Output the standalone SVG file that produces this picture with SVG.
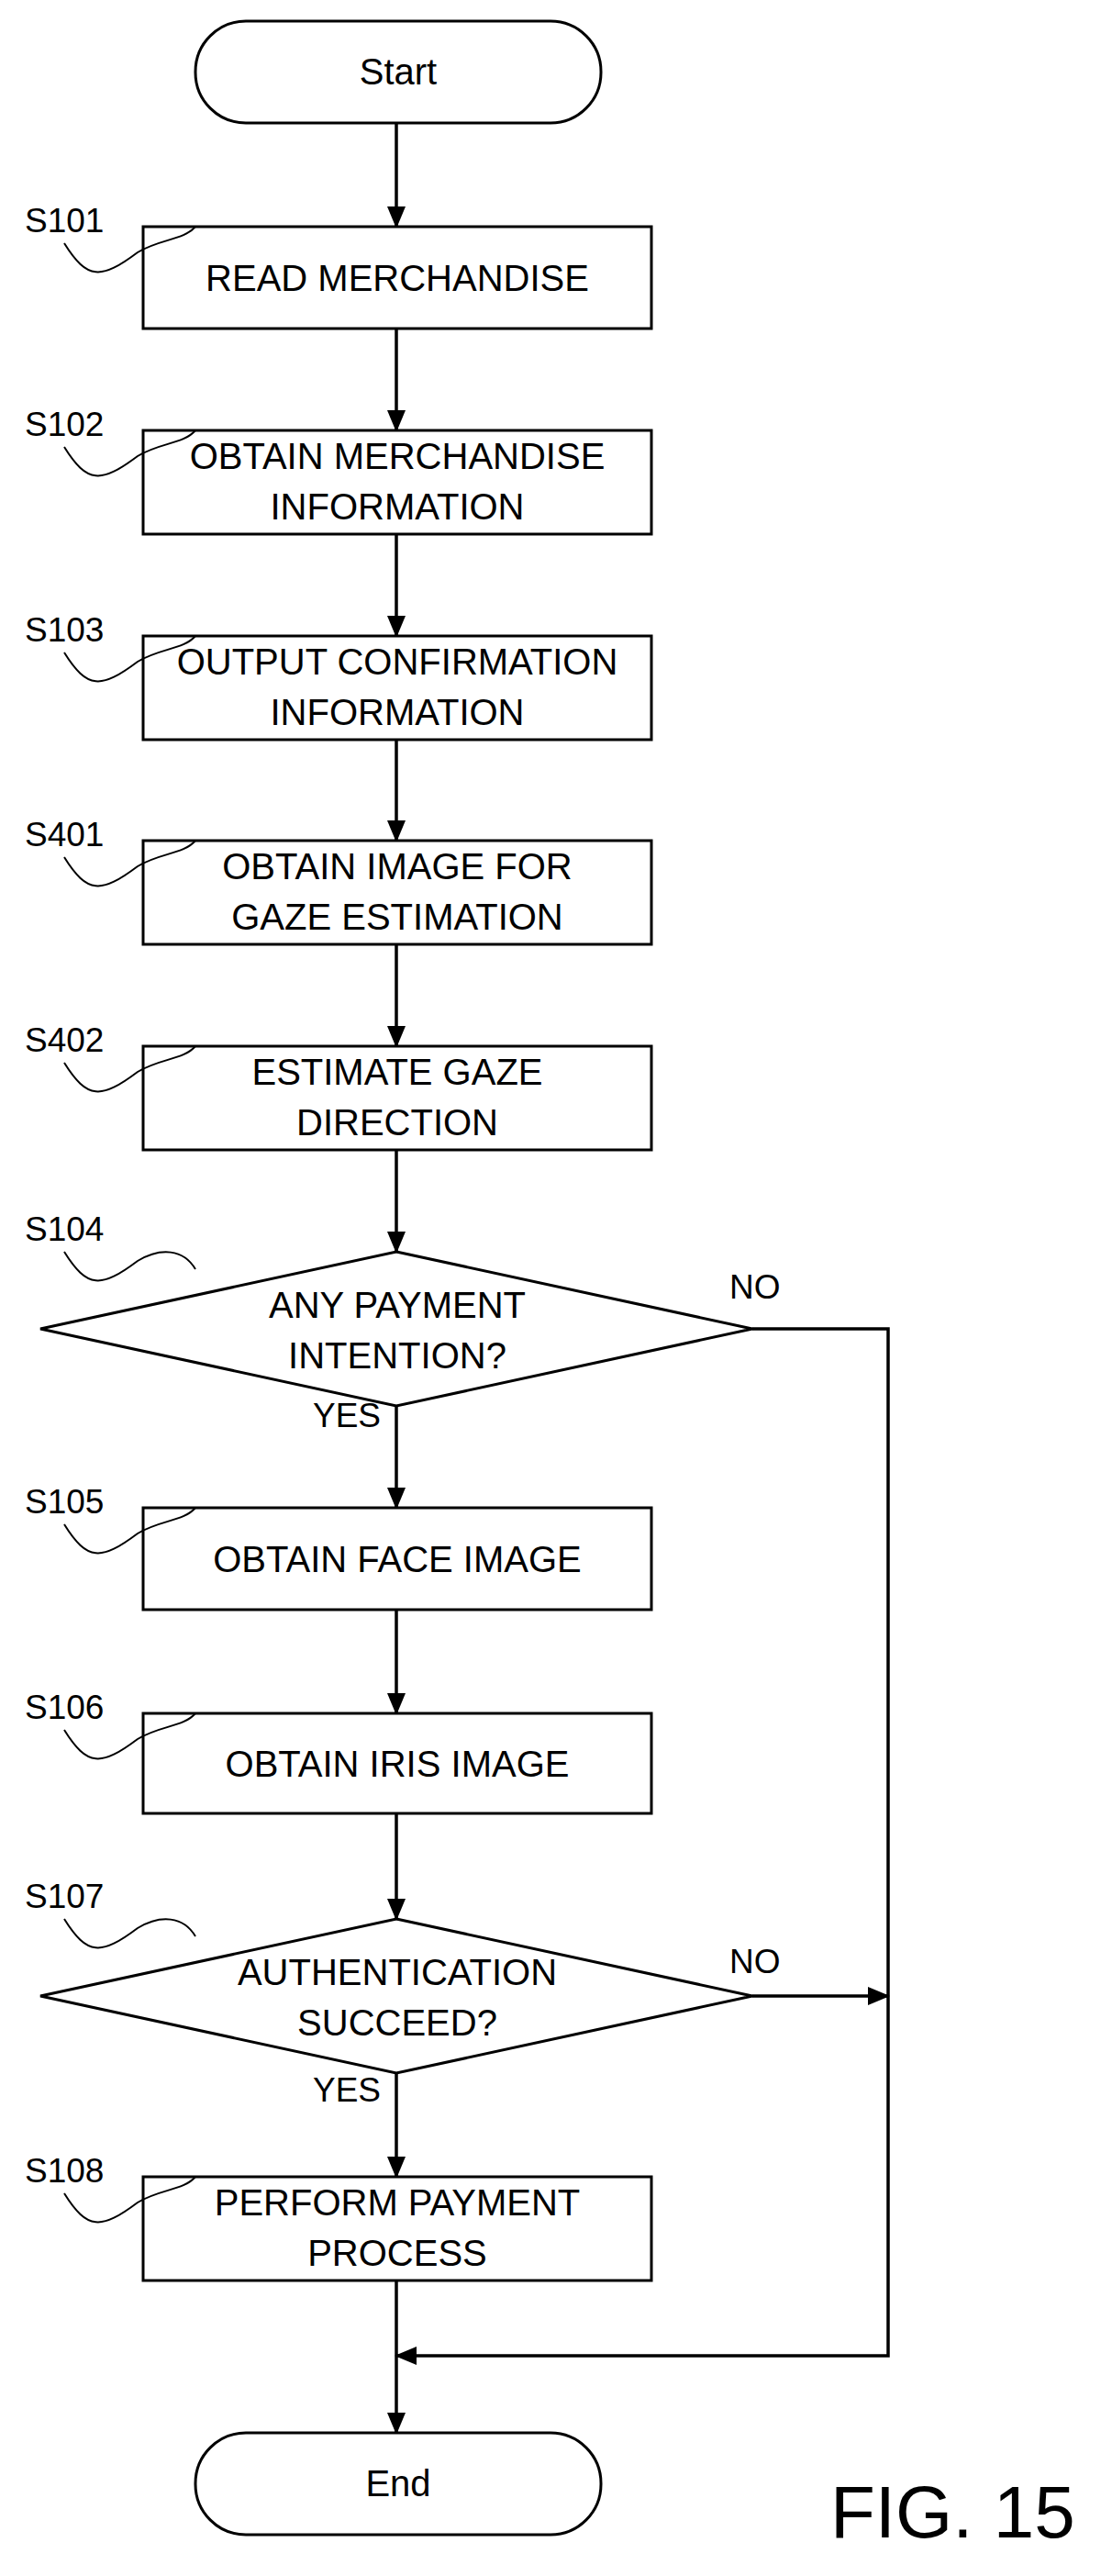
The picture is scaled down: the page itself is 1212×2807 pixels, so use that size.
<svg xmlns="http://www.w3.org/2000/svg" width="1212" height="2807" viewBox="0 0 1212 2807">
<style>
.s{fill:#fff;stroke:#000;stroke-width:3}
.t{font-family:"Liberation Sans",Arial,sans-serif;font-size:40px;text-anchor:middle;fill:#000}
.l{font-family:"Liberation Sans",Arial,sans-serif;font-size:37px;fill:#000}
.c{fill:none;stroke:#000;stroke-width:3.5}
.w{fill:none;stroke:#000;stroke-width:2}
</style>
<defs>
<marker id="b" markerWidth="24" markerHeight="24" refX="22" refY="12" orient="auto" markerUnits="userSpaceOnUse" viewBox="0 0 24 24"><path d="M0,2L24,12L0,22z" fill="#000"/></marker></defs>
<g id="connectors">
<path class="c" d="M432,134V247" marker-end="url(#b)"/>
<path class="c" d="M432,358V469" marker-end="url(#b)"/>
<path class="c" d="M432,582V693" marker-end="url(#b)"/>
<path class="c" d="M432,806V916" marker-end="url(#b)"/>
<path class="c" d="M432,1029V1140" marker-end="url(#b)"/>
<path class="c" d="M432,1253V1364" marker-end="url(#b)"/>
<path class="c" d="M432,1532V1643" marker-end="url(#b)"/>
<path class="c" d="M432,1754V1867" marker-end="url(#b)"/>
<path class="c" d="M432,1976V2091" marker-end="url(#b)"/>
<path class="c" d="M432,2259V2372" marker-end="url(#b)"/>
<path class="c" d="M432,2485V2651" marker-end="url(#b)"/>
<path class="c" d="M820,1448H968V2567H432" marker-end="url(#b)"/>
<path class="c" d="M820,2175H968" marker-end="url(#b)"/>
</g>
<g id="start"><rect class="s" x="213" y="23" width="442" height="111" rx="55"/><text class="t" x="434" y="92">Start</text></g>
<g id="S101"><rect class="s" x="156" y="247" width="554" height="111"/><text class="t" x="433" y="317">READ MERCHANDISE</text><text class="l" x="27" y="253">S101</text><path class="w" d="M70,265C95,305 110,305 150,275C175,260 200,262 213,247"/></g>
<g id="S102"><rect class="s" x="156" y="469" width="554" height="113"/><text class="t" x="433" y="511">OBTAIN MERCHANDISE</text><text class="t" x="433" y="566">INFORMATION</text><text class="l" x="27" y="475">S102</text><path class="w" d="M70,487C95,527 110,527 150,497C175,482 200,484 213,469"/></g>
<g id="S103"><rect class="s" x="156" y="693" width="554" height="113"/><text class="t" x="433" y="735">OUTPUT CONFIRMATION</text><text class="t" x="433" y="790">INFORMATION</text><text class="l" x="27" y="699">S103</text><path class="w" d="M70,711C95,751 110,751 150,721C175,706 200,708 213,693"/></g>
<g id="S401"><rect class="s" x="156" y="916" width="554" height="113"/><text class="t" x="433" y="958">OBTAIN IMAGE FOR</text><text class="t" x="433" y="1013">GAZE ESTIMATION</text><text class="l" x="27" y="922">S401</text><path class="w" d="M70,934C95,974 110,974 150,944C175,929 200,931 213,916"/></g>
<g id="S402"><rect class="s" x="156" y="1140" width="554" height="113"/><text class="t" x="433" y="1182">ESTIMATE GAZE</text><text class="t" x="433" y="1237">DIRECTION</text><text class="l" x="27" y="1146">S402</text><path class="w" d="M70,1158C95,1198 110,1198 150,1168C175,1153 200,1155 213,1140"/></g>
<g id="S104"><path class="s" d="M432,1364L820,1448L432,1532L44,1448z"/><text class="t" x="433" y="1436">ANY PAYMENT</text><text class="t" x="433" y="1491">INTENTION?</text><text class="l" x="27" y="1352">S104</text><path class="w" d="M70,1364C95,1404 110,1404 150,1374C175,1359 200,1361 213,1383"/><text class="l" x="795" y="1415">NO</text><text class="l" x="341" y="1555">YES</text></g>
<g id="S105"><rect class="s" x="156" y="1643" width="554" height="111"/><text class="t" x="433" y="1713">OBTAIN FACE IMAGE</text><text class="l" x="27" y="1649">S105</text><path class="w" d="M70,1661C95,1701 110,1701 150,1671C175,1656 200,1658 213,1643"/></g>
<g id="S106"><rect class="s" x="156" y="1867" width="554" height="109"/><text class="t" x="433" y="1936">OBTAIN IRIS IMAGE</text><text class="l" x="27" y="1873">S106</text><path class="w" d="M70,1885C95,1925 110,1925 150,1895C175,1880 200,1882 213,1867"/></g>
<g id="S107"><path class="s" d="M432,2091L820,2175L432,2259L44,2175z"/><text class="t" x="433" y="2163">AUTHENTICATION</text><text class="t" x="433" y="2218">SUCCEED?</text><text class="l" x="27" y="2079">S107</text><path class="w" d="M70,2091C95,2131 110,2131 150,2101C175,2086 200,2088 213,2110"/><text class="l" x="795" y="2150">NO</text><text class="l" x="341" y="2290">YES</text></g>
<g id="S108"><rect class="s" x="156" y="2372" width="554" height="113"/><text class="t" x="433" y="2414">PERFORM PAYMENT</text><text class="t" x="433" y="2469">PROCESS</text><text class="l" x="27" y="2378">S108</text><path class="w" d="M70,2390C95,2430 110,2430 150,2400C175,2385 200,2387 213,2372"/></g>
<g id="end"><rect class="s" x="213" y="2651" width="442" height="111" rx="55"/><text class="t" x="434" y="2720">End</text></g>
<text x="905" y="2765" style="font-family:'Liberation Sans',Arial,sans-serif;font-size:80px">FIG. 15</text>
</svg>
